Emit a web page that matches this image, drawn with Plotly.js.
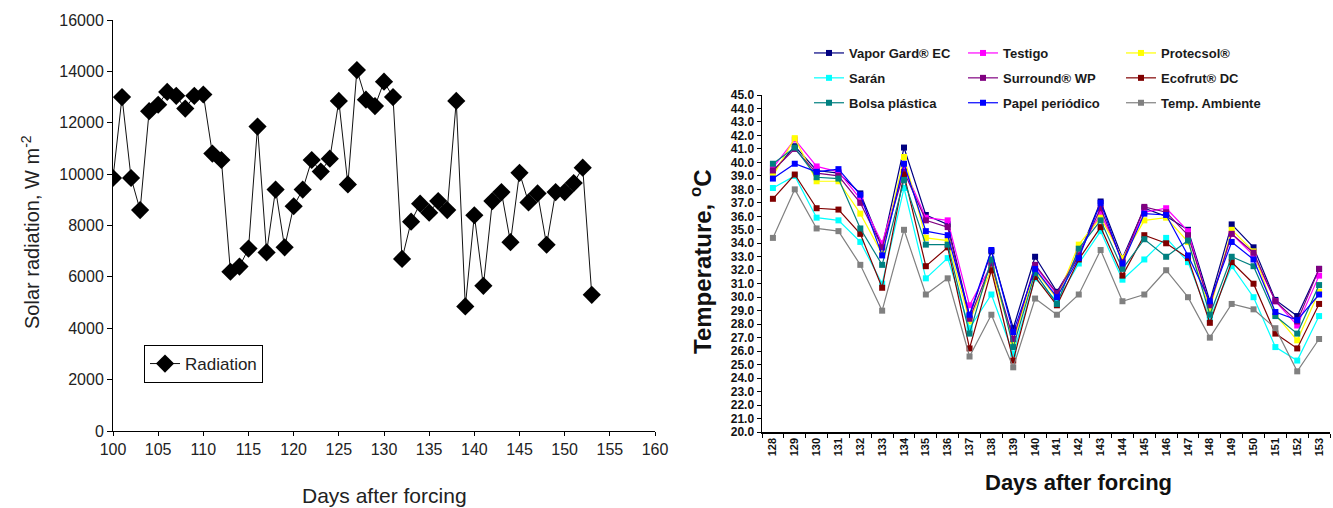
<!DOCTYPE html>
<html>
<head>
<meta charset="utf-8">
<script src="https://cdn.plot.ly/plotly-3.0.1.min.js"></script>
<style>html,body{margin:0;padding:0;background:#fff;}</style>
</head>
<body>
<div id="chart" style="width:1333px;height:508px;"></div>
<script>
// ---------- Left chart data: solar radiation ----------
const radDays = [100,101,102,103,104,105,106,107,108,109,110,111,112,113,114,115,116,117,118,119,120,121,122,123,124,125,126,127,128,129,130,131,132,133,134,135,136,137,138,139,140,141,142,143,144,145,146,147,148,149,150,151,152,153];
const radValues = [9850,13000,9850,8600,12450,12700,13200,13050,12550,13050,13100,10800,10550,6200,6400,7100,11850,6950,9400,7150,8750,9400,10550,10100,10600,12850,9600,14050,12900,12650,13600,13000,6700,8150,8850,8500,8950,8600,12850,4850,8400,5650,8950,9300,7350,10050,8900,9250,7250,9300,9300,9650,10250,5300];

// ---------- Right chart data: temperature ----------
const tempDays = ['128','129','130','131','132','133','134','135','136','137','138','139','140','141','142','143','144','145','146','147','148','149','150','151','152','153'];
const vaporGard   = [39.3,41.2,39.4,39.2,37.7,33.7,41.1,36.1,35.4,28.6,33.4,27.7,33.0,30.4,33.1,37.1,32.9,36.6,36.0,35.0,29.7,35.4,33.7,29.8,28.6,32.1];
const testigo     = [39.6,41.7,39.7,39.3,37.3,34.0,39.6,35.9,35.7,29.4,32.4,26.8,32.3,30.2,33.4,36.2,32.8,36.3,36.6,34.9,29.3,34.7,33.1,29.7,27.9,31.6];
const protecsol   = [39.0,41.8,38.6,38.6,36.2,33.2,40.4,34.4,34.2,28.2,32.1,26.7,32.0,29.9,33.9,35.9,32.9,35.7,35.9,34.1,29.1,35.0,33.4,28.7,26.8,30.4];
const saran       = [38.1,39.0,35.9,35.7,34.1,31.0,38.1,31.4,32.9,27.7,30.2,25.8,31.4,29.7,32.5,34.9,31.3,32.8,34.4,32.6,28.4,32.3,30.0,26.3,25.3,28.6];
const surround    = [39.4,41.0,39.2,39.0,37.0,33.7,39.3,35.7,35.2,28.4,32.5,26.9,32.4,30.3,33.1,36.6,32.6,36.7,36.3,34.6,29.4,34.7,33.3,29.7,28.2,32.1];
const ecofrut     = [37.3,39.1,36.6,36.5,34.7,30.7,39.1,32.3,33.7,26.2,32.0,25.3,31.5,29.4,32.8,35.2,31.6,34.6,34.0,32.9,28.1,32.6,31.0,27.3,26.2,29.5];
const bolsa       = [39.9,41.1,38.9,38.8,35.1,32.4,38.7,33.9,33.9,27.3,32.8,26.3,31.8,29.5,33.6,35.7,32.1,34.3,33.0,34.2,28.7,33.0,32.3,28.6,27.3,30.9];
const papel       = [38.8,39.9,39.3,39.5,37.6,33.1,39.9,34.9,34.6,28.7,33.5,27.4,32.1,30.0,32.9,37.0,32.5,36.2,36.1,33.1,29.7,34.1,32.8,28.9,28.3,30.2];
const ambiente    = [34.4,38.0,35.1,34.9,32.4,29.0,35.0,30.2,31.4,25.6,28.7,24.8,29.9,28.7,30.2,33.5,29.7,30.2,32.0,30.0,27.0,29.5,29.1,27.7,24.5,26.9];

const seriesNames = ['Vapor Gard® EC','Testigo','Protecsol®','Sarán','Surround® WP','Ecofrut® DC','Bolsa plástica','Papel periódico','Temp. Ambiente'];
const seriesValues = [vaporGard,testigo,protecsol,saran,surround,ecofrut,bolsa,papel,ambiente];

// ---------- styles ----------
const seriesColors = ['#000080','#FF00FF','#FFFF00','#00FFFF','#800080','#800000','#008080','#0000FF','#808080'];
const legendForSeries = ['legend2','legend3','legend4','legend2','legend3','legend4','legend2','legend3','legend4'];
const FONT = 'Liberation Sans, Arial, Helvetica, sans-serif';
const W = 1333, H = 508;
const px = v => v / W;
const py = v => 1 - v / H;

const traces = [];
traces.push({
  type: 'scatter', mode: 'lines+markers',
  x: radDays, y: radValues, name: 'Radiation',
  xaxis: 'x', yaxis: 'y', legend: 'legend',
  line: {color: '#111', width: 1},
  marker: {symbol: 'diamond', size: 14, color: '#000'}
});
seriesValues.forEach((vals, i) => {
  traces.push({
    type: 'scatter', mode: 'lines+markers',
    x: tempDays, y: vals, name: seriesNames[i],
    xaxis: 'x2', yaxis: 'y2',
    legend: legendForSeries[i], legendgroup: 'g' + i,
    line: {color: seriesColors[i], width: 1.2},
    marker: {symbol: 'square', size: 6, color: seriesColors[i]}
  });
});

const legendFont = {family: FONT, size: 13, weight: 'bold', color: '#1a1a1a'};
const layout = {
  width: W, height: H,
  margin: {l: 0, r: 0, t: 0, b: 0},
  paper_bgcolor: '#fff', plot_bgcolor: '#fff',
  font: {family: FONT, color: '#222'},
  showlegend: true,
  xaxis: {
    domain: [px(113), px(655)], anchor: 'y',
    range: [100, 160], tick0: 100, dtick: 5,
    ticks: 'outside', ticklen: 4, tickcolor: '#000',
    showline: true, linecolor: '#000', linewidth: 1,
    showgrid: false, zeroline: false,
    tickfont: {family: FONT, size: 16, color: '#222'}
  },
  yaxis: {
    domain: [py(431), py(20)], anchor: 'x',
    range: [0, 16000], dtick: 2000, tickformat: 'd',
    ticks: 'outside', ticklen: 5, tickcolor: '#000',
    showline: true, linecolor: '#000', linewidth: 1,
    showgrid: false, zeroline: false,
    tickfont: {family: FONT, size: 16, color: '#222'}
  },
  xaxis2: {
    domain: [px(762), px(1330)], anchor: 'y2',
    type: 'category', range: [-0.5, 25.5],
    tickson: 'boundaries', ticks: 'outside', ticklen: 4, tickcolor: '#000',
    tickangle: -90,
    showline: true, linecolor: '#000', linewidth: 1.5,
    showgrid: false, zeroline: false,
    tickfont: {family: FONT, size: 11, weight: 'bold', color: '#111'}
  },
  yaxis2: {
    domain: [py(432), py(95)], anchor: 'x2',
    range: [20, 45], dtick: 1, tickformat: '.1f',
    ticks: 'outside', ticklen: 4, tickcolor: '#000',
    showline: true, linecolor: '#000', linewidth: 1.5,
    showgrid: false, zeroline: false,
    tickfont: {family: FONT, size: 12, weight: 'bold', color: '#111'}
  },
  legend: {
    x: px(144), y: py(345), xanchor: 'left', yanchor: 'top',
    bordercolor: '#000', borderwidth: 1, bgcolor: '#fff',
    font: {family: FONT, size: 17, color: '#222'}
  },
  legend2: {x: px(809), y: py(38), xanchor: 'left', yanchor: 'top', bgcolor: 'rgba(0,0,0,0)', font: legendFont, tracegroupgap: 5},
  legend3: {x: px(963), y: py(38), xanchor: 'left', yanchor: 'top', bgcolor: 'rgba(0,0,0,0)', font: legendFont, tracegroupgap: 5},
  legend4: {x: px(1121), y: py(38), xanchor: 'left', yanchor: 'top', bgcolor: 'rgba(0,0,0,0)', font: legendFont, tracegroupgap: 5},
  annotations: [
    {text: 'Days after forcing', xref: 'paper', yref: 'paper', x: px(384), y: py(495),
     showarrow: false, xanchor: 'center', yanchor: 'middle',
     font: {family: FONT, size: 21, color: '#222'}},
    {text: 'Solar radiation, W m<sup>-2</sup>', xref: 'paper', yref: 'paper', x: px(30), y: py(232),
     showarrow: false, textangle: -90, xanchor: 'center', yanchor: 'middle',
     font: {family: FONT, size: 20, color: '#222'}},
    {text: 'Days after forcing', xref: 'paper', yref: 'paper', x: px(1078), y: py(482),
     showarrow: false, xanchor: 'center', yanchor: 'middle',
     font: {family: FONT, size: 22, weight: 'bold', color: '#111'}},
    {text: 'Temperature, <sup>o</sup>C', xref: 'paper', yref: 'paper', x: px(701), y: py(262),
     showarrow: false, textangle: -90, xanchor: 'center', yanchor: 'middle',
     font: {family: FONT, size: 24, weight: 'bold', color: '#111'}}
  ]
};

Plotly.newPlot('chart', traces, layout, {displayModeBar: false, staticPlot: true});
</script>
</body>
</html>
